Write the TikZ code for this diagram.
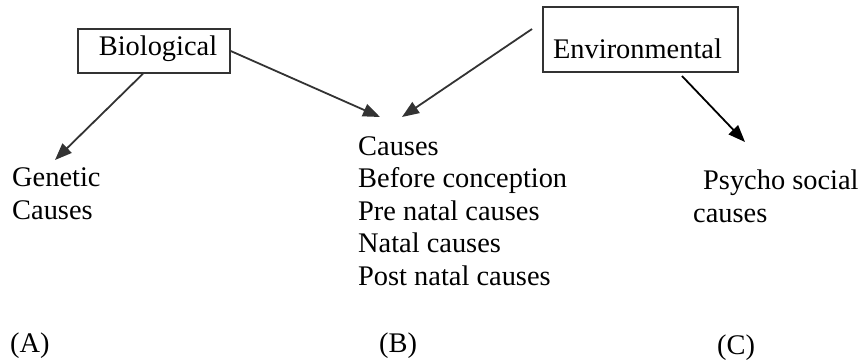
\documentclass[tikz,border=0pt]{standalone}
\usepackage{fontspec}
\setmainfont{Liberation Serif}
\usetikzlibrary{arrows.meta}
\definecolor{ink}{HTML}{333333}
\begin{document}
\begin{tikzpicture}[x=1pt,y=-1pt,
  txt/.style={inner sep=0pt,anchor=base west,align=left,text=black,
    font=\fontsize{28.4}{32.5}\selectfont},
  boxnode/.style={draw=ink,line width=1.4pt,inner sep=0pt,anchor=base,
    font=\fontsize{28.4}{32.5}\selectfont},
  arr/.style={draw=ink,line width=1.8pt,-{Triangle[length=17pt,width=13pt]}}]
\useasboundingbox (0,0) rectangle (863,364);
\node[boxnode,minimum width=152pt,text height=27pt,text depth=17pt] (bio) at (154,56) {\hspace*{8pt}Biological};
\node[boxnode,minimum width=195pt,text height=51pt,text depth=14pt] (env) at (640.5,58) {Environmental\hspace*{6pt}};
\node[txt] (gen) at (12,219) {Genetic\\Causes};
\node[txt] (mid) at (358,285) {Causes\\Before conception\\Pre natal causes\\Natal causes\\Post natal causes};
\node[txt] (psy) at (693,222) {\hspace*{10pt}Psycho social\\causes};
\node[txt] (la) at (10,352) {(A)};
\node[txt] (lb) at (379,352) {(B)};
\node[txt] (lc) at (717,354) {(C)};
\coordinate (gtip) at (55,160);
\coordinate (btip1) at (380,117);
\coordinate (btip2) at (402,117);
\coordinate (estart) at (532,29);
\coordinate (pstart) at (682,76);
\coordinate (ptip) at (745,142);
\draw[arr] ([xshift=-11pt]bio.south) -- (gtip);
\draw[arr] (bio.east) -- (btip1);
\draw[arr] (estart) -- (btip2);
\draw[arr,draw=black] (pstart) -- (ptip);
\end{tikzpicture}
\end{document}
